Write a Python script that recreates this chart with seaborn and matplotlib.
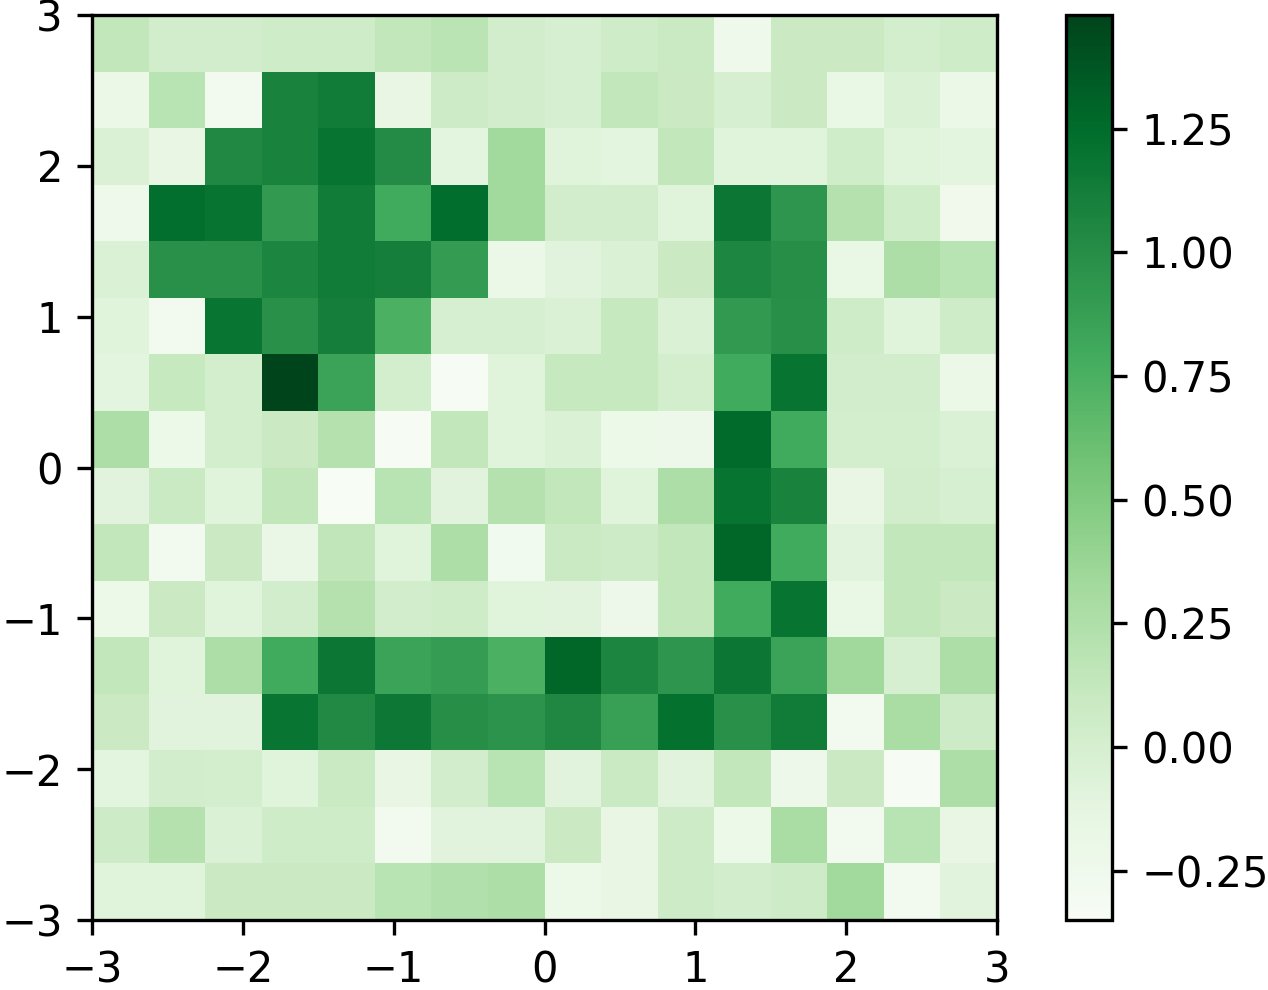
import matplotlib
matplotlib.use("Agg")
import matplotlib.pyplot as plt
import seaborn as sns
import numpy as np
from matplotlib.ticker import MultipleLocator

# grid values, top row (y=3) first, columns left (x=-3) to right
row_00 = [0.14, 0.03, 0.03, 0.05, 0.05, 0.14, 0.18, 0.03, 0.00, 0.05, 0.09, -0.24, 0.08, 0.08, 0.02, 0.05]
row_01 = [-0.19, 0.20, -0.28, 1.08, 1.14, -0.15, 0.07, 0.03, 0.00, 0.14, 0.08, 0.00, 0.08, -0.17, -0.04, -0.19]
row_02 = [-0.04, -0.15, 1.04, 1.08, 1.20, 1.02, -0.11, 0.33, -0.08, -0.11, 0.14, -0.08, -0.08, 0.04, -0.08, -0.11]
row_03 = [-0.24, 1.23, 1.20, 0.91, 1.14, 0.80, 1.24, 0.33, 0.03, 0.03, -0.08, 1.17, 0.95, 0.22, 0.04, -0.25]
row_04 = [-0.04, 0.98, 0.98, 1.07, 1.14, 1.12, 0.90, -0.19, -0.09, -0.04, 0.08, 1.06, 1.00, -0.17, 0.26, 0.20]
row_05 = [-0.08, -0.29, 1.19, 0.98, 1.12, 0.75, 0.00, 0.00, -0.04, 0.11, -0.04, 0.91, 0.99, 0.05, -0.08, 0.05]
row_06 = [-0.11, 0.11, 0.02, 1.48, 0.85, 0.02, -0.33, -0.08, 0.11, 0.11, 0.02, 0.80, 1.20, 0.03, 0.03, -0.19]
row_07 = [0.26, -0.20, 0.02, 0.08, 0.22, -0.33, 0.14, -0.08, -0.04, -0.20, -0.23, 1.26, 0.80, 0.02, 0.02, -0.04]
row_08 = [-0.09, 0.09, -0.08, 0.15, -0.35, 0.20, -0.09, 0.22, 0.14, -0.08, 0.26, 1.20, 1.08, -0.15, 0.03, 0.00]
row_09 = [0.14, -0.29, 0.08, -0.18, 0.15, -0.08, 0.26, -0.27, 0.09, 0.07, 0.14, 1.28, 0.80, -0.09, 0.14, 0.14]
row_10 = [-0.20, 0.08, -0.08, 0.03, 0.22, 0.03, 0.05, -0.08, -0.09, -0.23, 0.14, 0.80, 1.20, -0.17, 0.14, 0.08]
row_11 = [0.14, -0.08, 0.26, 0.80, 1.17, 0.85, 0.89, 0.75, 1.28, 1.07, 0.95, 1.17, 0.85, 0.34, 0.00, 0.26]
row_12 = [0.08, -0.09, -0.09, 1.19, 1.03, 1.16, 1.00, 0.96, 1.05, 0.87, 1.22, 0.98, 1.14, -0.29, 0.28, 0.07]
row_13 = [-0.11, 0.03, 0.02, -0.08, 0.09, -0.15, 0.03, 0.20, -0.09, 0.09, -0.09, 0.14, -0.23, 0.08, -0.33, 0.26]
row_14 = [0.07, 0.22, -0.04, 0.05, 0.05, -0.29, -0.09, -0.09, 0.08, -0.15, 0.07, -0.21, 0.28, -0.29, 0.20, -0.15]
row_15 = [-0.08, -0.08, 0.08, 0.08, 0.08, 0.20, 0.23, 0.26, -0.21, -0.15, 0.07, 0.03, 0.07, 0.33, -0.29, -0.09]

axis_values = [-3, -2, -1, 0, 1, 2, 3]
axis_labels = ["\u22123", "\u22122", "\u22121", "0", "1", "2", "3"]

grid = np.array([row_00, row_01, row_02, row_03, row_04, row_05, row_06, row_07,
                 row_08, row_09, row_10, row_11, row_12, row_13, row_14, row_15])
n = grid.shape[0]

fig = plt.figure(figsize=(1268 / 300, 990 / 300), dpi=300)
ax = fig.add_axes([0.0726, 0.0707, 0.7137, 0.9141])
cax = fig.add_axes([0.8407, 0.0707, 0.0363, 0.9141])

sns.heatmap(grid, cmap="Greens", ax=ax, cbar_ax=cax,
            xticklabels=False, yticklabels=False)

# map the -3..3 data range onto the cell grid
pos_x = [(v + 3) * n / 6 for v in axis_values]
pos_y = [(3 - v) * n / 6 for v in axis_values]
ax.set_xticks(pos_x)
ax.set_xticklabels(axis_labels)
ax.set_yticks(pos_y)
ax.set_yticklabels(axis_labels)
ax.tick_params(axis="both", labelsize=10, length=3.5, width=0.8, rotation=0)

for sp in ax.spines.values():
    sp.set_visible(True)
    sp.set_linewidth(0.8)
    sp.set_color("black")

cbar = ax.collections[0].colorbar
cbar.outline.set_linewidth(0.8)
cbar.outline.set_edgecolor("black")
cax.yaxis.set_major_locator(MultipleLocator(0.25))
cax.tick_params(labelsize=10, length=3.5, width=0.8)

fig.savefig("out.png", dpi=300)
plt.close()
